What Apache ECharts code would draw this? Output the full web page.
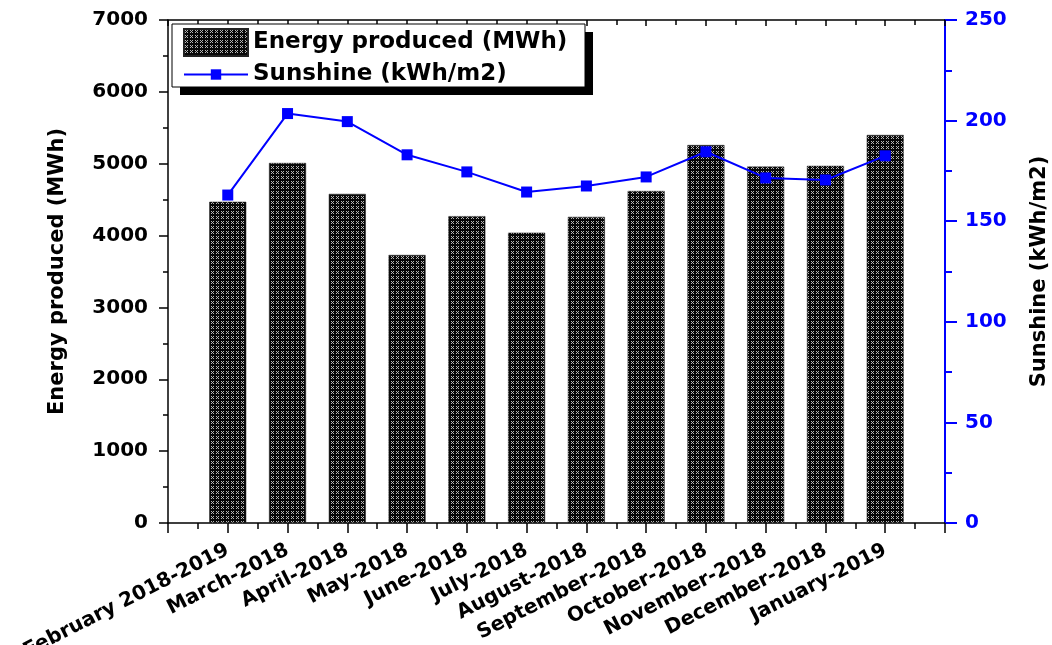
<!DOCTYPE html>
<html>
<head>
<meta charset="utf-8">
<script src="https://cdn.jsdelivr.net/npm/echarts@6/dist/echarts.min.js"></script>
<style>
  html, body { margin: 0; padding: 0; background: #fff; }
  #main { width: 1052px; height: 645px; }
</style>
</head>
<body>
<div id="main"></div>
<script>
// monthly data
const months = ['February 2018-2019', 'March-2018', 'April-2018', 'May-2018', 'June-2018', 'July-2018',
  'August-2018', 'September-2018', 'October-2018', 'November-2018', 'December-2018', 'January-2019']
const energy = [4470, 5010, 4580, 3730, 4270, 4040, 4260, 4620, 5260, 4960, 4970, 5400]
const sunshine = [163, 203.5, 199.5, 183, 174.5, 164.5, 167.5, 172, 184.5, 171.5, 170.5, 182.5]

const font = 'DejaVu Sans'

// crosshatch fill like the original bars
function makePattern() {
  let c = document.createElement('canvas')
  c.width = 5
  c.height = 5
  let ctx = c.getContext('2d')
  ctx.fillStyle = '#080808'
  ctx.fillRect(0, 0, 5, 5)
  ctx.fillStyle = '#b8b8b8'
  ;[[1, 1], [3, 1], [2, 2], [1, 3], [3, 3]].forEach(p => ctx.fillRect(p[0], p[1], 1, 1))
  return c
}
const hatch = { image: makePattern(), repetition: 'repeat' }

let myChart = echarts.init(document.getElementById('main'))
let option = {
  animation: false,
  grid: { left: 168, right: 107, top: 20, bottom: 122, outerBoundsMode: 'none' },
  graphic: [
    { type: 'rect', z: 3, shape: { x: 180, y: 32, width: 413, height: 63 }, style: { fill: '#000' } },
    { type: 'rect', z: 3, shape: { x: 172, y: 24, width: 413, height: 63 }, style: { fill: '#fff', stroke: '#000', lineWidth: 1 } }
  ],
  legend: [
    {
      z: 5, left: 183, top: 28, padding: 0, itemWidth: 64, itemHeight: 27, icon: 'rect',
      data: ['Energy produced (MWh)'],
      textStyle: { fontFamily: font, fontWeight: 'bold', fontSize: 23, color: '#000' }
    },
    {
      z: 5, left: 183, top: 63, padding: 0, itemWidth: 64, itemHeight: 13,
      data: ['Sunshine (kWh/m2)'],
      textStyle: { fontFamily: font, fontWeight: 'bold', fontSize: 23, color: '#000' }
    }
  ],
  xAxis: [
    {
      type: 'value', min: 0, max: 13, interval: 1,
      axisLine: { onZero: false, lineStyle: { color: '#000', width: 1.5 } },
      axisTick: { show: true, length: 10, lineStyle: { color: '#000', width: 1.5 } },
      minorTick: { show: true, splitNumber: 2, length: 6, lineStyle: { color: '#000', width: 1.5 } },
      splitLine: { show: false },
      axisLabel: {
        rotate: 27, margin: 26, color: '#000', fontFamily: font, fontWeight: 'bold', fontSize: 20,
        showMinLabel: true, showMaxLabel: true,
        formatter: v => months[v - 1] || ''
      }
    },
    {
      type: 'value', position: 'top', min: 0, max: 13, interval: 1,
      axisLine: { onZero: false, lineStyle: { color: '#000', width: 1.5 } },
      axisTick: { show: true, inside: true, length: 6, lineStyle: { color: '#000', width: 1.5 } },
      minorTick: { show: true, splitNumber: 2, length: 5, lineStyle: { color: '#000', width: 1.5 } },
      splitLine: { show: false },
      axisLabel: { show: false }
    }
  ],
  yAxis: [
    {
      type: 'value', min: 0, max: 7000, interval: 1000,
      name: 'Energy produced (MWh)', nameLocation: 'middle', nameGap: 100, nameRotate: 90,
      nameTextStyle: { fontFamily: font, fontWeight: 'bold', fontSize: 21, color: '#000' },
      axisLine: { show: true, onZero: false, lineStyle: { color: '#000', width: 1.5 } },
      axisTick: { show: true, length: 9, lineStyle: { color: '#000', width: 1.5 } },
      minorTick: { show: true, splitNumber: 2, length: 5, lineStyle: { color: '#000', width: 1.5 } },
      splitLine: { show: false },
      axisLabel: { margin: 20, color: '#000', fontFamily: font, fontWeight: 'bold', fontSize: 20, formatter: v => String(v) }
    },
    {
      type: 'value', min: 0, max: 250, interval: 50, position: 'right',
      name: 'Sunshine (kWh/m2)', nameLocation: 'middle', nameGap: 84, nameRotate: 90,
      nameTextStyle: { fontFamily: font, fontWeight: 'bold', fontSize: 21, color: '#000' },
      axisLine: { show: true, onZero: false, lineStyle: { color: '#0000ff', width: 2 } },
      axisTick: { show: true, length: 12, lineStyle: { color: '#0000ff', width: 2 } },
      minorTick: { show: true, splitNumber: 2, length: 7, lineStyle: { color: '#0000ff', width: 2 } },
      splitLine: { show: false },
      axisLabel: { margin: 20, color: '#0000ff', fontFamily: font, fontWeight: 'bold', fontSize: 20, formatter: v => String(v) }
    }
  ],
  series: [
    {
      name: 'Energy produced (MWh)',
      type: 'bar',
      barWidth: 37,
      itemStyle: { color: hatch, borderColor: '#222', borderWidth: 0.5 },
      data: energy.map((v, i) => [i + 1, v])
    },
    {
      name: 'Sunshine (kWh/m2)',
      type: 'line',
      yAxisIndex: 1,
      symbol: 'rect',
      symbolSize: 11,
      itemStyle: { color: '#0000ff' },
      lineStyle: { color: '#0000ff', width: 2 },
      data: sunshine.map((v, i) => [i + 1, v])
    }
  ]
}
myChart.setOption(option)
</script>
</body>
</html>
